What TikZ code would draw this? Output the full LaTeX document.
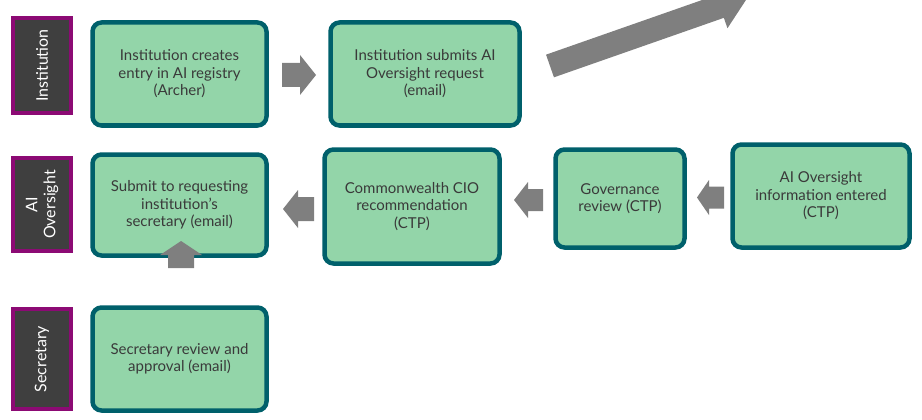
\documentclass[tikz,border=0pt]{standalone}
\usepackage{fontspec}
\setmainfont{Lato}
\definecolor{boxg}{HTML}{93D5A9}
\definecolor{boxb}{HTML}{00606B}
\definecolor{lab}{HTML}{3F3F3F}
\definecolor{labb}{HTML}{8C0A74}
\definecolor{txt}{HTML}{3A3A3A}
\definecolor{arr}{HTML}{7F7F7F}
\newcommand{\blockarr}[6]{% x,y,rot,length,shaft,head,headlen
\begin{scope}[shift={(#1)},rotate=#2]
\fill[arr] (0,-#4/2)--(#3-#6,-#4/2)--(#3-#6,-#5/2)--(#3,0)--(#3-#6,#5/2)--(#3-#6,#4/2)--(0,#4/2)--cycle;
\end{scope}}
\newcommand{\hlen}{14}
\begin{document}
\begin{tikzpicture}[x=1pt,y=-1pt,
 procbox/.style={draw=boxb,line width=4.5pt,fill=boxg,rounded corners=9pt,align=center,text=txt,font=\fontsize{15}{17.5}\selectfont,inner sep=0pt},
 role/.style={draw=labb,line width=4pt,fill=lab,text=white,rotate=90,font=\fontsize{16}{18}\selectfont,align=center,inner sep=0pt}]
\useasboundingbox (0,0) rectangle (922,420);
\node[role,minimum width=95pt,minimum height=58pt] (r1) at (42,65.5) {Institution};
\node[role,minimum width=93pt,minimum height=58pt] (r2) at (42,204.5) {AI\\Oversight};
\node[role,minimum width=100pt,minimum height=58pt] (r3) at (42,359) {Secretary};
\node[procbox,minimum width=174pt,minimum height=103pt] (b1) at (179.5,74) {Institution creates\\entry in AI registry\\(Archer)};
\node[procbox,minimum width=189pt,minimum height=103pt] (b2) at (425,74) {Institution submits AI\\Oversight request\\(email)};
\node[procbox,minimum width=177pt,minimum height=103pt] (b3) at (821,196) {AI Oversight\\information entered\\(CTP)};
\node[procbox,minimum width=129pt,minimum height=98pt] (b4) at (620,198.5) {Governance\\review (CTP)};
\node[procbox,minimum width=175pt,minimum height=114pt] (b5) at (412,206.5) {Commonwealth CIO\\recommendation\\(CTP)};
\node[procbox,minimum width=174pt,minimum height=101pt] (b6) at (179.5,205) {Submit to requesting\\institution’s\\secretary (email)};
\node[procbox,minimum width=174pt,minimum height=103pt] (b7) at (179.5,359) {Secretary review and\\approval (email)};
\blockarr{282,75}{0}{34}{24}{40}{16}
\blockarr{550,66}{19.3}{210}{24}{46}{30}
\blockarr{724,197.5}{180}{27}{22}{35}{12}
\blockarr{543,200}{180}{29}{22}{36}{14}
\blockarr{314,209}{180}{31}{24}{38}{15}
\blockarr{181,268}{90}{27}{26}{42}{14}
\end{tikzpicture}
\end{document}
